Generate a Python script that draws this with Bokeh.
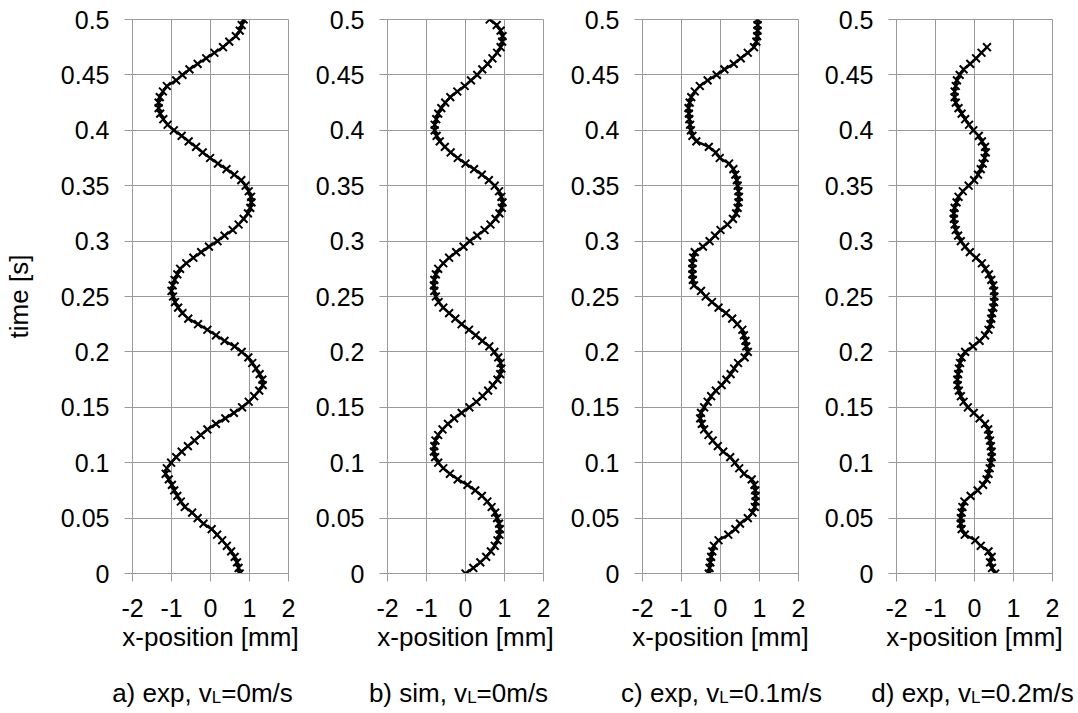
from bokeh.plotting import figure
from bokeh.layouts import row, column
from bokeh.models import Label, FixedTicker, CustomJSTickFormatter, Range1d
from bokeh.embed import file_html
from bokeh.resources import INLINE

# ---------------- data ----------------
TIME = [0.000, 0.005, 0.010, 0.015, 0.020, 0.025, 0.030, 0.035, 0.040, 0.045,
        0.050, 0.055, 0.060, 0.065, 0.070, 0.075, 0.080, 0.085, 0.090, 0.095,
        0.100, 0.105, 0.110, 0.115, 0.120, 0.125, 0.130, 0.135, 0.140, 0.145,
        0.150, 0.155, 0.160, 0.165, 0.170, 0.175, 0.180, 0.185, 0.190, 0.195,
        0.200, 0.205, 0.210, 0.215, 0.220, 0.225, 0.230, 0.235, 0.240, 0.245,
        0.250, 0.255, 0.260, 0.265, 0.270, 0.275, 0.280, 0.285, 0.290, 0.295,
        0.300, 0.305, 0.310, 0.315, 0.320, 0.325, 0.330, 0.335, 0.340, 0.345,
        0.350, 0.355, 0.360, 0.365, 0.370, 0.375, 0.380, 0.385, 0.390, 0.395,
        0.400, 0.405, 0.410, 0.415, 0.420, 0.425, 0.430, 0.435, 0.440, 0.445,
        0.450, 0.455, 0.460, 0.465, 0.470, 0.475, 0.480, 0.485, 0.490, 0.495,
        0.500]

# a) exp, vL = 0 m/s
X_A = [0.75, 0.72, 0.68, 0.62, 0.53, 0.42, 0.30, 0.17, 0.03, -0.18,
       -0.33, -0.47, -0.66, -0.76, -0.85, -0.93, -0.99, -1.07, -1.15, -1.12,
       -1.01, -0.88, -0.74, -0.58, -0.41, -0.25, -0.08, 0.14, 0.38, 0.60,
       0.81, 0.98, 1.12, 1.25, 1.34, 1.33, 1.26, 1.17, 1.07, 0.97,
       0.80, 0.62, 0.36, 0.14, -0.08, -0.32, -0.57, -0.72, -0.83, -0.91,
       -0.96, -1.00, -0.97, -0.92, -0.85, -0.78, -0.62, -0.44, -0.24, -0.04,
       0.18, 0.36, 0.57, 0.72, 0.85, 0.96, 1.02, 1.05, 1.04, 0.98,
       0.90, 0.79, 0.61, 0.41, 0.19, -0.01, -0.20, -0.37, -0.56, -0.74,
       -0.94, -1.10, -1.21, -1.29, -1.33, -1.33, -1.30, -1.22, -1.12, -0.88,
       -0.72, -0.54, -0.33, -0.11, 0.10, 0.32, 0.48, 0.65, 0.75, 0.80,
       0.85]

# b) sim, vL = 0 m/s
X_B = [0.00, 0.20, 0.38, 0.53, 0.65, 0.75, 0.82, 0.87, 0.88, 0.86,
       0.81, 0.76, 0.67, 0.56, 0.42, 0.25, 0.05, -0.20, -0.40, -0.57,
       -0.70, -0.78, -0.81, -0.80, -0.77, -0.70, -0.59, -0.45, -0.29, -0.10,
       0.10, 0.28, 0.44, 0.58, 0.70, 0.82, 0.89, 0.92, 0.90, 0.84,
       0.74, 0.61, 0.43, 0.26, 0.09, -0.10, -0.26, -0.42, -0.57, -0.69,
       -0.76, -0.80, -0.81, -0.80, -0.76, -0.70, -0.57, -0.42, -0.24, -0.05,
       0.11, 0.30, 0.49, 0.64, 0.77, 0.87, 0.93, 0.95, 0.92, 0.86,
       0.75, 0.60, 0.42, 0.22, 0.00, -0.20, -0.38, -0.53, -0.66, -0.74,
       -0.79, -0.79, -0.75, -0.70, -0.62, -0.52, -0.39, -0.21, -0.02, 0.14,
       0.30, 0.43, 0.57, 0.69, 0.81, 0.90, 0.94, 0.95, 0.90, 0.80,
       0.62]

# c) exp, vL = 0.1 m/s
X_C = [-0.30, -0.28, -0.26, -0.24, -0.21, -0.17, -0.05, 0.20, 0.38, 0.50,
       0.70, 0.82, 0.88, 0.90, 0.90, 0.89, 0.87, 0.80, 0.60, 0.48,
       0.37, 0.25, 0.07, -0.07, -0.20, -0.31, -0.42, -0.48, -0.52, -0.50,
       -0.42, -0.33, -0.24, -0.12, 0.03, 0.15, 0.26, 0.35, 0.45, 0.62,
       0.70, 0.66, 0.64, 0.60, 0.56, 0.43, 0.30, 0.14, -0.05, -0.22,
       -0.38, -0.50, -0.68, -0.71, -0.72, -0.72, -0.72, -0.70, -0.66, -0.45,
       -0.28, -0.14, 0.00, 0.18, 0.32, 0.40, 0.44, 0.46, 0.47, 0.46,
       0.44, 0.42, 0.38, 0.33, 0.22, -0.02, -0.12, -0.30, -0.62, -0.72,
       -0.76, -0.78, -0.80, -0.81, -0.82, -0.79, -0.75, -0.66, -0.53, -0.33,
       -0.10, 0.10, 0.34, 0.52, 0.70, 0.86, 0.92, 0.94, 0.95, 0.95,
       0.95]

# d) exp, vL = 0.2 m/s  (record ends at t = 0.475 s)
X_D = [0.53, 0.45, 0.40, 0.44, 0.36, 0.16, 0.02, -0.25, -0.33, -0.35,
       -0.35, -0.33, -0.31, -0.26, -0.10, 0.08, 0.22, 0.31, 0.36, 0.39,
       0.42, 0.44, 0.44, 0.42, 0.40, 0.37, 0.35, 0.27, 0.13, -0.02,
       -0.17, -0.28, -0.35, -0.40, -0.43, -0.44, -0.42, -0.40, -0.37, -0.33,
       -0.24, -0.04, 0.13, 0.27, 0.36, 0.41, 0.43, 0.45, 0.48, 0.50,
       0.51, 0.50, 0.48, 0.43, 0.37, 0.28, 0.19, 0.04, -0.12, -0.24,
       -0.35, -0.42, -0.48, -0.51, -0.53, -0.53, -0.51, -0.46, -0.41, -0.30,
       -0.15, -0.01, 0.09, 0.16, 0.21, 0.26, 0.29, 0.27, 0.19, 0.11,
       -0.03, -0.14, -0.24, -0.33, -0.41, -0.48, -0.51, -0.51, -0.48, -0.45,
       -0.38, -0.28, -0.11, 0.04, 0.18, 0.32]

SERIES = [X_A, X_B, X_C, X_D]
CAPTIONS = [("a) exp, v", "L", "=0m/s"),
            ("b) sim, v", "L", "=0m/s"),
            ("c) exp, v", "L", "=0.1m/s"),
            ("d) exp, v", "L", "=0.2m/s")]
X_TICKS = [-2, -1, 0, 1, 2]
T_TICKS = [0, 0.05, 0.1, 0.15, 0.2, 0.25, 0.3, 0.35, 0.4, 0.45, 0.5]
X_LABEL = "x-position [mm]"
Y_LABEL = "time [s]"

# ---------------- style ----------------
FONT = "Liberation Sans"
TICK_FS = "25px"
LAB_FS = 26
SUB_FS = 17
GRID = "#9a9a9a"

# Arial / Liberation Sans advance widths (per 1000 em)
AW = {'a': 556, ')': 333, ' ': 278, 'e': 556, 'x': 500, 'p': 556, ',': 278,
      'v': 500, 'b': 556, 's': 500, 'i': 222, 'm': 833, 'c': 500, 'd': 556,
      'L': 556, '=': 584, '0': 556, '.': 278, '1': 556, '2': 556, '/': 278}


def tw(s, fs):
    return sum(AW.get(ch, 556) for ch in s) * fs / 1000.0


LEFTS = [127, 89, 89, 88]
RIGHT = 10
FRAME_W, FRAME_H = 156, 554
TOP, BOTTOM = 19, 88
TOTAL_W, TOTAL_H = 1076, 712

figs = []
frame_centers = []
x0 = 0
for i, xs in enumerate(SERIES):
    ts = TIME[:len(xs)]
    p = figure(frame_width=FRAME_W, frame_height=FRAME_H,
               min_border_left=LEFTS[i], min_border_right=RIGHT,
               min_border_top=TOP, min_border_bottom=BOTTOM,
               x_range=Range1d(-2, 2), y_range=Range1d(0, 0.5),
               output_backend="svg", toolbar_location=None)
    frame_centers.append(x0 + LEFTS[i] + FRAME_W / 2.0)
    x0 += LEFTS[i] + FRAME_W + RIGHT
    p.background_fill_color = "white"
    p.border_fill_color = "white"
    p.outline_line_color = GRID

    for ax in (p.xaxis[0], p.yaxis[0]):
        ax.axis_line_color = GRID
        ax.major_tick_line_color = GRID
        ax.major_tick_out = 8
        ax.major_tick_in = 0
        ax.minor_tick_line_color = None
        ax.major_label_text_font = FONT
        ax.major_label_text_font_size = TICK_FS
        ax.major_label_text_color = "black"
        ax.axis_label_text_font = FONT
        ax.axis_label_text_font_size = f"{LAB_FS}px"
        ax.axis_label_text_font_style = "normal"
        ax.axis_label_text_color = "black"
        ax.formatter = CustomJSTickFormatter(code="return String(Math.round(tick*100)/100);")

    p.xaxis.ticker = FixedTicker(ticks=X_TICKS)
    p.yaxis.ticker = FixedTicker(ticks=T_TICKS)
    p.xgrid.ticker = FixedTicker(ticks=X_TICKS)
    p.ygrid.ticker = FixedTicker(ticks=T_TICKS)
    for g in (p.xgrid[0], p.ygrid[0]):
        g.grid_line_color = GRID
        g.grid_line_width = 1

    p.xaxis.major_label_standoff = 17
    p.xaxis.axis_label = X_LABEL
    p.xaxis.axis_label_standoff = 2
    p.yaxis.major_label_standoff = 15
    if i == 0:
        p.yaxis.axis_label = Y_LABEL
        p.yaxis.axis_label_standoff = 24

    p.line(xs, ts, line_color="black", line_width=2.5)
    p.scatter(xs, ts, marker="x", size=11, line_color="black", line_width=2)
    figs.append(p)

# caption strip (a blank canvas below the four panels)
CAP_H = TOTAL_H - (TOP + FRAME_H + BOTTOM)
CAP_SHIFT = [-3, -2, 6, 3]
BASELINE = 20
cap = figure(title=None, frame_width=TOTAL_W, frame_height=CAP_H,
             x_range=Range1d(0, TOTAL_W), y_range=Range1d(0, CAP_H),
             x_axis_type=None, y_axis_type=None,
             min_border=0, min_border_left=0, min_border_right=0,
             min_border_top=0, min_border_bottom=0,
             output_backend="svg", toolbar_location=None)
cap.outline_line_color = None
cap.background_fill_color = "white"
cap.border_fill_color = "white"
for i, (a, sub, b) in enumerate(CAPTIONS):
    w1, w2, w3 = tw(a, LAB_FS), tw(sub, SUB_FS), tw(b, LAB_FS)
    start = frame_centers[i] + CAP_SHIFT[i] - (w1 + w2 + w3) / 2.0
    common = dict(y=BASELINE, text_font=FONT, text_color="black",
                  text_align="left", text_baseline="alphabetic")
    cap.add_layout(Label(x=start, text=a, text_font_size=f"{LAB_FS}px", **common))
    cap.add_layout(Label(x=start + w1, text=sub, y_offset=-5,
                         text_font_size=f"{SUB_FS}px", **common))
    cap.add_layout(Label(x=start + w1 + w2, text=b,
                         text_font_size=f"{LAB_FS}px", **common))

layout = column(row(*figs), cap)
open("out.html", "w").write(file_html(layout, INLINE))
